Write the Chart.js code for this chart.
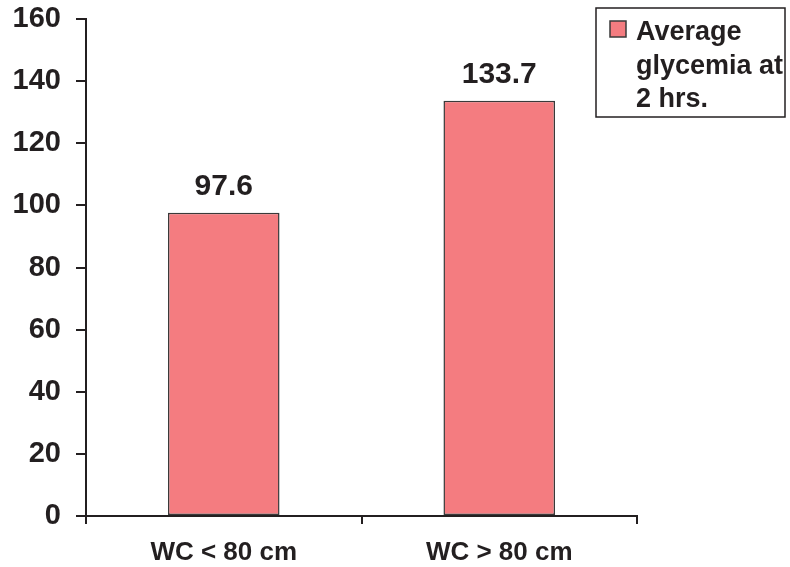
<!DOCTYPE html>
<html>
<head>
<meta charset="utf-8">
<script src="https://cdn.jsdelivr.net/npm/chart.js@4/dist/chart.umd.min.js"></script>
<style>
  html, body { margin: 0; padding: 0; background: #fff; }
  #wrap { width: 790px; height: 567px; }
</style>
</head>
<body>
<div id="wrap"><canvas id="myChart" width="790" height="567"></canvas></div>
<script>
const categories = ['WC < 80 cm', 'WC > 80 cm']
const glycemia = [97.6, 133.7]
const seriesName = ['Average', 'glycemia at', '2 hrs.']
const yTicks = [0, 20, 40, 60, 80, 100, 120, 140, 160]

const ink = '#231f20'
const barFill = '#f47c80'
const font = "'Liberation Sans', Arial, sans-serif"

// value printed above each bar
const valueLabels = {
    id: 'valueLabels',
    afterDatasetsDraw(chart) {
        const { ctx } = chart
        const meta = chart.getDatasetMeta(0)
        ctx.save()
        ctx.fillStyle = ink
        ctx.font = 'bold 30px ' + font
        ctx.textAlign = 'center'
        ctx.textBaseline = 'alphabetic'
        meta.data.forEach((bar, i) => {
            ctx.fillText(chart.data.datasets[0].data[i].toFixed(1), bar.x, bar.y - 18)
        })
        ctx.restore()
    }
}

// boxed legend in the top right corner
const boxLegend = {
    id: 'boxLegend',
    afterDraw(chart) {
        const { ctx } = chart
        const ds = chart.data.datasets[0]
        ctx.save()
        ctx.strokeStyle = ink
        ctx.lineWidth = 1.5
        ctx.strokeRect(596, 8, 189, 109)
        ctx.fillStyle = ds.backgroundColor
        ctx.fillRect(610, 21, 16, 16)
        ctx.strokeStyle = '#3a3a3a'
        ctx.strokeRect(610, 21, 16, 16)
        ctx.fillStyle = ink
        ctx.font = 'bold 27px ' + font
        ctx.textAlign = 'left'
        ctx.textBaseline = 'alphabetic'
        ds.label.forEach((line, i) => {
            ctx.fillText(line, 636, 40 + i * 33.5)
        })
        ctx.restore()
    }
}

new Chart(document.getElementById('myChart'), {
    type: 'bar',
    data: {
        labels: categories,
        datasets: [{
            label: seriesName,
            data: glycemia,
            backgroundColor: barFill,
            borderColor: '#3a3a3a',
            borderWidth: 1.5,
            borderSkipped: false,
            barPercentage: 0.81,
            categoryPercentage: 0.5
        }]
    },
    options: {
        responsive: false,
        animation: false,
        layout: { padding: { top: 19, right: 153, left: 0, bottom: 0 } },
        plugins: {
            legend: { display: false },
            tooltip: { enabled: false }
        },
        scales: {
            x: {
                offset: true,
                grid: { offset: true, drawOnChartArea: false, drawTicks: true, tickLength: 8, color: ink, lineWidth: 2 },
                border: { color: ink, width: 2 },
                ticks: { color: ink, font: { family: font, size: 26, weight: 'bold' }, padding: 13 },
                afterFit(scale) {
                    scale.height = 51
                    scale.paddingLeft = 0
                    scale.paddingRight = 0
                }
            },
            y: {
                min: 0,
                max: 160,
                afterBuildTicks(scale) { scale.ticks = yTicks.map(v => ({ value: v })) },
                grid: { drawOnChartArea: false, drawTicks: true, tickLength: 10, color: ink, lineWidth: 2 },
                border: { color: ink, width: 2 },
                ticks: { color: ink, font: { family: font, size: 29, weight: 'bold' }, padding: 15 },
                afterFit(scale) {
                    scale.width = 86
                    scale.paddingTop = 0
                    scale.paddingBottom = 0
                }
            }
        }
    },
    plugins: [valueLabels, boxLegend]
})
</script>
</body>
</html>
